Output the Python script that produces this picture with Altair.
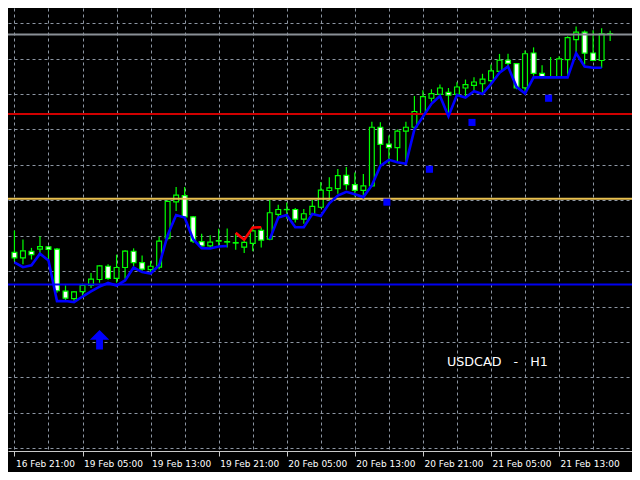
import altair as alt
import pandas as pd

# ---------------- data (USDCAD H1) ----------------
bar_index = list(range(71))
open_ = [1.24973, 1.24917, 1.24983, 1.25007, 1.25030, 1.25007, 1.24573, 1.24495, 1.24567, 1.24633,
         1.24693, 1.24830, 1.24705, 1.24817, 1.24985, 1.24867, 1.24795, 1.24820, 1.25120, 1.25495,
         1.25560, 1.25340, 1.25085, 1.25040, 1.25095, 1.25080, 1.25075, 1.25027, 1.25067, 1.25200,
         1.25110, 1.25367, 1.25417, 1.25417, 1.25317, 1.25365, 1.25440, 1.25613, 1.25633, 1.25770,
         1.25673, 1.25615, 1.25660, 1.26267, 1.26093, 1.26057, 1.26227, 1.26267, 1.26407, 1.26567,
         1.26607, 1.26627, 1.26607, 1.26673, 1.26700, 1.26717, 1.26750, 1.26845, 1.26960, 1.26925,
         1.26675, 1.27035, 1.26825, 1.26790, 1.26783, 1.26967, 1.27173, 1.27250, 1.27035, 1.26957,
         1.27235]
high = [1.25200, 1.25107, 1.25020, 1.25140, 1.25040, 1.25020, 1.24633, 1.24575, 1.24650, 1.24760,
        1.24840, 1.24850, 1.24950, 1.24995, 1.25015, 1.24940, 1.24885, 1.25135, 1.25510, 1.25650,
        1.25650, 1.25350, 1.25167, 1.25150, 1.25217, 1.25220, 1.25170, 1.25120, 1.25250, 1.25230,
        1.25517, 1.25467, 1.25490, 1.25433, 1.25423, 1.25517, 1.25700, 1.25750, 1.25835, 1.25855,
        1.25800, 1.25783, 1.26325, 1.26320, 1.26183, 1.26243, 1.26325, 1.26590, 1.26650, 1.26660,
        1.26710, 1.26673, 1.26733, 1.26760, 1.26783, 1.26820, 1.26917, 1.27025, 1.27027, 1.26930,
        1.27060, 1.27093, 1.26907, 1.26993, 1.27000, 1.27207, 1.27310, 1.27267, 1.27270, 1.27290,
        1.27265]
low = [1.24880, 1.24850, 1.24900, 1.24950, 1.24870, 1.24555, 1.24475, 1.24460, 1.24525, 1.24605,
       1.24660, 1.24690, 1.24660, 1.24700, 1.24833, 1.24760, 1.24750, 1.24800, 1.25100, 1.25400,
       1.25330, 1.25070, 1.25010, 1.25010, 1.25030, 1.25025, 1.25000, 1.24967, 1.24985, 1.25023,
       1.25100, 1.25320, 1.25320, 1.25283, 1.25270, 1.25355, 1.25430, 1.25510, 1.25580, 1.25620,
       1.25550, 1.25540, 1.25650, 1.25880, 1.25890, 1.25900, 1.25895, 1.26250, 1.26385, 1.26533,
       1.26570, 1.26383, 1.26585, 1.26585, 1.26640, 1.26615, 1.26700, 1.26833, 1.26880, 1.26660,
       1.26630, 1.26800, 1.26780, 1.26780, 1.26780, 1.26783, 1.27040, 1.26917, 1.26950, 1.26880,
       1.27160]
close = [1.24917, 1.24990, 1.24950, 1.25033, 1.25005, 1.24577, 1.24500, 1.24565, 1.24633, 1.24697,
         1.24833, 1.24705, 1.24817, 1.24987, 1.24867, 1.24800, 1.24830, 1.25090, 1.25500, 1.25565,
         1.25340, 1.25090, 1.25040, 1.25080, 1.25090, 1.25085, 1.25070, 1.25077, 1.25195, 1.25100,
         1.25383, 1.25417, 1.25415, 1.25317, 1.25373, 1.25450, 1.25617, 1.25640, 1.25767, 1.25673,
         1.25615, 1.25660, 1.26267, 1.26090, 1.26057, 1.26227, 1.26267, 1.26430, 1.26583, 1.26615,
         1.26673, 1.26600, 1.26683, 1.26707, 1.26735, 1.26765, 1.26850, 1.26960, 1.26927, 1.26675,
         1.27027, 1.26825, 1.26785, 1.26785, 1.26973, 1.27193, 1.27250, 1.27033, 1.26957, 1.27233,
         1.27233]

# trailing indicator: blue buffer / red buffer (None = empty)
trail_blue = [1.24870, 1.24820, 1.24840, 1.24960, 1.24890, 1.24470, 1.24470, 1.24460, 1.24517, 1.24570,
              1.24620, 1.24657, 1.24630, 1.24683, 1.24817, 1.24770, 1.24755, 1.24840, 1.25150, 1.25360,
              1.25333, 1.25110, 1.25017, 1.25013, 1.25035, 1.25040, None, None, None, None,
              1.25110, 1.25333, 1.25360, 1.25233, 1.25233, 1.25370, 1.25350, 1.25480, 1.25560, 1.25600,
              1.25575, 1.25545, 1.25667, 1.25867, 1.25930, 1.25905, 1.25890, 1.26245, 1.26375, 1.26510,
              1.26590, 1.26380, 1.26600, 1.26575, 1.26640, 1.26610, 1.26715, 1.26830, 1.26895, 1.26685,
              1.26615, 1.26783, 1.26783, 1.26783, 1.26783, 1.26783, 1.27033, 1.26895, 1.26883, 1.26883,
              None]
trail_red = [None] * 26 + [1.25175, 1.25105, 1.25230, 1.25233] + [None] * 41

square_index = [44, 49, 54, 63]
square_price = [1.25493, 1.25833, 1.26317, 1.26567]
arrow_index = [10]
arrow_price = [1.24070]

level_price = [1.27227, 1.26403, 1.25528, 1.24641]
level_color = ["#8a8f96", "#d00000", "#e8c050", "#0000f0"]

tick_labels = ["16 Feb 21:00", "19 Feb 05:00", "19 Feb 13:00", "19 Feb 21:00", "20 Feb 05:00",
               "20 Feb 13:00", "20 Feb 21:00", "21 Feb 05:00", "21 Feb 13:00"]
symbol_text = "USDCAD\u00a0\u00a0\u00a0-\u00a0\u00a0\u00a0H1"

# ---------------- tables ----------------
candles = pd.DataFrame({"i": bar_index, "open": open_, "high": high, "low": low, "close": close})


def segments(values, name):
    rows, seg, prev = [], 0, None
    for i, v in enumerate(values):
        if v is None:
            continue
        if prev is not None and i - prev > 1:
            seg += 1
        rows.append({"i": i, "v": v, "seg": f"{name}{seg}"})
        prev = i
    return pd.DataFrame(rows)


blue_df = segments(trail_blue, "b")
red_df = segments(trail_red, "r")
squares = pd.DataFrame({"i": square_index, "p": square_price})
arrows = pd.DataFrame({"i": arrow_index, "p": arrow_price})
levels = pd.DataFrame({"p": level_price, "c": level_color})

# ---------------- scales / axes ----------------
W, H = 624, 443
y_top = 1.2750
y_bot = 1.2750 - 0.0458
grid_prices = [round(1.2750 - (15.7 + 36.62 * k) / 10000, 6) for k in range(13)]

label_array = "[" + ",".join(f"'{s}'" for s in tick_labels) + "]"
x_axis = alt.Axis(
    values=list(range(0, 72, 4)),
    grid=True, gridColor="#8d96a3", gridDash=[3, 3], gridWidth=1,
    domain=True, domainColor="#c8c8c8", domainWidth=1,
    ticks=True, tickSize=5, tickWidth=1,
    tickColor={"condition": {"test": "datum.value % 8 === 0", "value": "#c8c8c8"},
               "value": "transparent"},
    labelExpr=f"datum.value % 8 === 0 ? {label_array}[datum.value / 8] : ''",
    labelColor="#ffffff", labelFont="DejaVu Sans", labelFontSize=9,
    labelAlign="left", labelBaseline="top", labelPadding=3, labelOffset=1,
    labelOverlap=False, labelBound=False, labelFlush=False, title=None,
)
y_axis = alt.Axis(values=grid_prices, grid=True, gridColor="#8d96a3", gridDash=[3, 3],
                  gridWidth=1, labels=False, ticks=False, domain=False, title=None)

xs = alt.Scale(domain=[-0.17, 71.98], nice=False, zero=False)
ys = alt.Scale(domain=[y_bot, y_top], nice=False, zero=False)

X = alt.X("i:Q", scale=xs, axis=x_axis)

wicks = alt.Chart(candles).mark_rule(color="#00ff00", strokeWidth=1.2).encode(
    x=X, y=alt.Y("low:Q", scale=ys, axis=y_axis), y2="high:Q")

bodies = alt.Chart(candles).mark_bar(width=4.8, stroke="#00ff00", strokeWidth=1.2).encode(
    x=X, y=alt.Y("open:Q", scale=ys, axis=y_axis), y2="close:Q",
    fill=alt.condition("datum.close >= datum.open", alt.value("#000000"), alt.value("#ffffff")),
)

level_rules = alt.Chart(levels).mark_rule(strokeWidth=2).encode(
    y=alt.Y("p:Q", scale=ys, axis=y_axis), color=alt.Color("c:N", scale=None))

blue_line = alt.Chart(blue_df).mark_line(color="#0000ff", strokeWidth=2.6).encode(
    x=X, y=alt.Y("v:Q", scale=ys, axis=y_axis), detail="seg:N")
red_line = alt.Chart(red_df).mark_line(color="#ff0000", strokeWidth=2.6).encode(
    x=X, y=alt.Y("v:Q", scale=ys, axis=y_axis), detail="seg:N")

square_marks = alt.Chart(squares).mark_square(size=50, color="#0000ff", filled=True,
                                              opacity=1, xOffset=-2).encode(
    x=X, y=alt.Y("p:Q", scale=ys, axis=y_axis))

arrow_path = "M0,-1 L1,0 L0.35,0 L0.35,1 L-0.35,1 L-0.35,0 L-1,0 Z"
arrow_marks = alt.Chart(arrows).mark_point(shape=arrow_path, size=380, color="#0000ff",
                                           filled=True, opacity=1).encode(
    x=X, y=alt.Y("p:Q", scale=ys, axis=y_axis))

label = alt.Chart(pd.DataFrame({"t": [symbol_text]})).mark_text(
    align="left", baseline="alphabetic", color="#ffffff", font="DejaVu Sans",
    fontSize=12.7).encode(x=alt.value(439), y=alt.value(358), text="t:N")

chart = alt.layer(wicks, bodies, level_rules, blue_line, red_line, square_marks,
                  arrow_marks, label).properties(
    width=W, height=H, background="#000000",
    padding={"left": 0, "top": 0, "right": 0, "bottom": 21},
    autosize=alt.AutoSizeParams(type="none"),
).configure_view(strokeWidth=0)

chart.save("out.html", embed_options={"renderer": "svg", "actions": False})
